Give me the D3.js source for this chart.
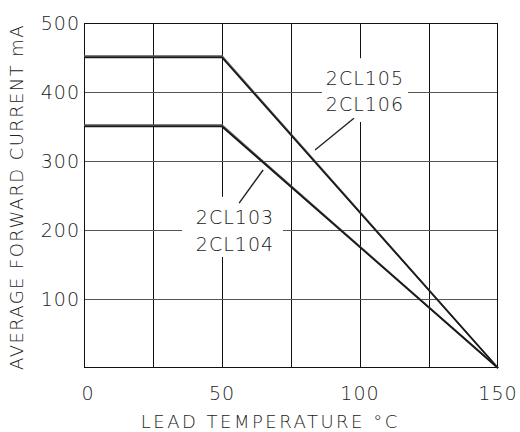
<!DOCTYPE html>
<html>
<head>
<meta charset="utf-8">
<script src="https://cdn.jsdelivr.net/npm/d3@7"></script>
<style>
  body { margin: 0; background: #fff; }
  text { font-family: "DejaVu Sans", sans-serif; font-weight: 200; fill: #222; }
</style>
</head>
<body>
<div id="chart"></div>
<script>
// derating curves, temperature (°C) vs current (mA)
const temps = [0, 50, 150];
const cl105 = [450, 450, 0];
const cl106 = [452, 452, 0];
const cl103 = [350, 350, 0];
const cl104 = [352, 352, 0];

const xTicks = [0, 50, 100, 150];
const yTicks = [100, 200, 300, 400, 500];
const xGrid = [25, 50, 75, 100, 125];
const yGrid = [100, 200, 300, 400];

// labels with leader lines and the box that blanks out the grid behind them
const notes = [
  { lines: ["2CL105", "2CL106"], x: 101.8, y: [420, 383], box: [86.2, 117.4, 356.5, 449], leader: [[83.7, 316], [97.8, 362]] },
  { lines: ["2CL103", "2CL104"], x: 54.7, y: [219, 180], box: [35.5, 72.1, 161, 248], leader: [[56.2, 239], [64.9, 287]] }
];

const margin = { top: 23, right: 22, bottom: 64, left: 84 };
const width = 520 - margin.left - margin.right;
const height = 432 - margin.top - margin.bottom;

const x = d3.scaleLinear().domain([0, 150]).range([0, width]);
const y = d3.scaleLinear().domain([0, 500]).range([height, 0]);

const svg = d3.select("#chart").append("svg")
  .attr("width", 520)
  .attr("height", 432)
  .append("g")
  .attr("transform", "translate(" + margin.left + "," + margin.top + ")");

// grid
svg.selectAll(".vg").data(xGrid).enter().append("line")
  .attr("x1", d => Math.round(x(d)) + 0.5).attr("x2", d => Math.round(x(d)) + 0.5)
  .attr("y1", 0).attr("y2", height)
  .attr("stroke", "#111").attr("stroke-width", 1);

svg.selectAll(".hg").data(yGrid).enter().append("line")
  .attr("x1", 0).attr("x2", width)
  .attr("y1", d => Math.round(y(d)) + 0.5).attr("y2", d => Math.round(y(d)) + 0.5)
  .attr("stroke", "#555").attr("stroke-width", 1);

// blank out grid behind labels
svg.selectAll(".box").data(notes).enter().append("rect")
  .attr("x", d => x(d.box[0])).attr("width", d => x(d.box[1]) - x(d.box[0]))
  .attr("y", d => y(d.box[3])).attr("height", d => y(d.box[2]) - y(d.box[3]))
  .attr("fill", "#fff");

// frame
svg.append("rect")
  .attr("x", 0.5).attr("y", 0.5)
  .attr("width", width - 1).attr("height", height - 1)
  .attr("fill", "none").attr("stroke", "#111").attr("stroke-width", 1);

// curves
const line = d3.line().x((d, i) => x(temps[i])).y(d => y(d));
[cl106, cl105, cl104, cl103].forEach((s, i) => {
  svg.append("path")
    .attr("d", line(s))
    .attr("fill", "none")
    .attr("stroke", i % 2 == 0 ? "#555" : "#1a1a1a")
    .attr("stroke-width", 1.7);
});

// labels and leaders
notes.forEach(n => {
  svg.append("line")
    .attr("x1", x(n.leader[0][0])).attr("y1", y(n.leader[0][1]))
    .attr("x2", x(n.leader[1][0])).attr("y2", y(n.leader[1][1]))
    .attr("stroke", "#222").attr("stroke-width", 1.4);
  n.lines.forEach((t, i) => {
    svg.append("text")
      .attr("x", x(n.x)).attr("y", y(n.y[i]))
      .attr("dy", "0.36em")
      .attr("text-anchor", "middle")
      .style("font-size", "19px")
      .style("letter-spacing", "1px")
      .text(t);
  });
});

// tick labels
svg.selectAll(".xt").data(xTicks).enter().append("text")
  .attr("x", d => x(d) + (d == 0 ? 4 : 0)).attr("y", height + 25)
  .attr("dy", "0.36em")
  .attr("text-anchor", "middle")
  .style("font-size", "19px")
  .style("letter-spacing", "1px")
  .text(d => d);

svg.selectAll(".yt").data(yTicks).enter().append("text")
  .attr("x", -4).attr("y", d => y(d))
  .attr("dy", "0.36em")
  .attr("text-anchor", "end")
  .style("font-size", "19px")
  .style("letter-spacing", "1px")
  .text(d => d);

// axis titles
svg.append("text")
  .attr("x", x(67.5)).attr("y", height + 54)
  .attr("dy", "0.36em")
  .attr("text-anchor", "middle")
  .style("font-size", "18px")
  .style("letter-spacing", "2.5px")
  .text("LEAD TEMPERATURE °C");

svg.append("text")
  .attr("transform", "translate(" + (-67) + "," + 174 + ") rotate(-90)")
  .attr("dy", "0.36em")
  .attr("text-anchor", "middle")
  .style("font-size", "18px")
  .style("letter-spacing", "1.4px")
  .text("AVERAGE FORWARD CURRENT mA");
</script>
</body>
</html>
